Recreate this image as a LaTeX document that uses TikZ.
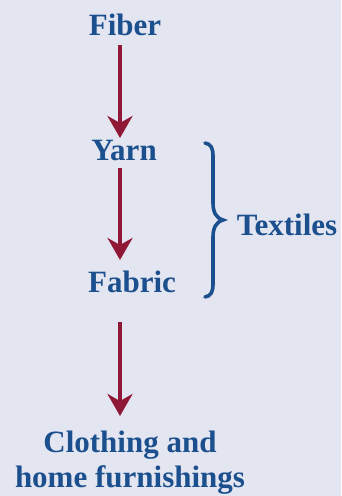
\documentclass[tikz,border=0pt]{standalone}
\usepackage{fontspec}
\setmainfont{Liberation Serif}
\usetikzlibrary{arrows.meta}
\definecolor{bgpanel}{HTML}{E3E5F1}
\definecolor{labelblue}{HTML}{1B4F8D}
\definecolor{flowred}{HTML}{8F1836}
\tikzset{
  stage/.style={font=\fontsize{31}{35}\selectfont\bfseries, text=labelblue,
    inner sep=0pt, anchor=base, align=center},
  flow/.style={draw=flowred, line width=4.7pt,
    -{Stealth[length=22pt,width=25pt,inset=7pt]}},
  group/.style={draw=labelblue, line width=3.6pt, line cap=round}
}
\begin{document}
\begin{tikzpicture}[x=1pt,y=-1pt]
  \fill[bgpanel] (0,0) rectangle (341,496);
  \useasboundingbox (0,0) rectangle (341,496);

  % production stages
  \node[stage] (fiber)  at (125,35)  {Fiber};
  \node[stage] (yarn)   at (124,160) {Yarn};
  \node[stage] (fabric) at (132,292) {Fabric};
  \node[stage] (goods)  at (130,487) {Clothing and\\home furnishings};
  \node[stage] (textiles) at (287,235) {Textiles};

  % arrow end points between the stages
  \coordinate (f1) at (120,45);
  \coordinate (y0) at (120,138);
  \coordinate (y1) at (120,168);
  \coordinate (b0) at (120,260);
  \coordinate (b1) at (120,322);
  \coordinate (g0) at (120,416);

  \draw[flow] (f1) -- (y0);
  \draw[flow] (y1) -- (b0);
  \draw[flow] (b1) -- (g0);

  % brace grouping yarn and fabric
  \coordinate (bt) at (205,143);
  \coordinate (bm) at (223,220);
  \coordinate (bb) at (205,297);
  \draw[group] (bt) .. controls (211,144) and (213,148) .. (213,156)
    -- (213,203) .. controls (213,212) and (216,218) .. (bm)
    .. controls (216,222) and (213,228) .. (213,237)
    -- (213,284) .. controls (213,292) and (211,296) .. (bb);
\end{tikzpicture}
\end{document}
